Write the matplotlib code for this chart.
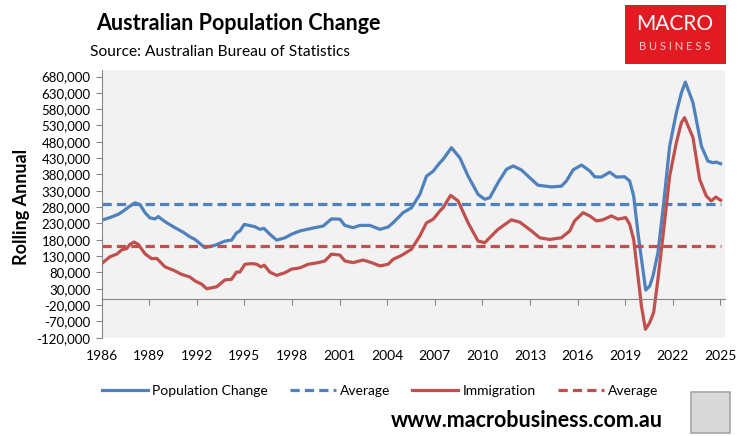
import matplotlib
matplotlib.use("Agg")
import matplotlib.pyplot as plt
from matplotlib.patches import Rectangle
from matplotlib.lines import Line2D
from matplotlib.ticker import FuncFormatter

plt.rcParams['font.family'] = ['Lato', 'DejaVu Sans']

# rolling annual population change
pop_years = [1986.0, 1986.52, 1987.05, 1987.36, 1987.78, 1988.1, 1988.41, 1988.73, 1989.04,
             1989.36, 1989.57, 1989.78, 1990.1, 1990.62, 1991.14, 1991.56, 1991.88, 1992.5,
             1993.14, 1993.77, 1994.19, 1994.5, 1994.71, 1994.99, 1995.66, 1995.97, 1996.23,
             1996.6, 1997.03, 1997.55, 1997.97, 1998.5, 1999.33, 1999.96, 2000.49, 2001.02,
             2001.33, 2001.85, 2002.28, 2002.9, 2003.54, 2004.06, 2004.37, 2005.0, 2005.53,
             2006.06, 2006.48, 2006.9, 2007.32, 2007.52, 2008.05, 2008.58, 2009.1, 2009.73,
             2010.15, 2010.47, 2010.99, 2011.52, 2011.94, 2012.46, 2013.1, 2013.51, 2014.36,
             2014.98, 2015.3, 2015.72, 2016.25, 2016.77, 2017.08, 2017.5, 2018.03, 2018.45,
             2018.97, 2019.29, 2019.54, 2019.81, 2020.09, 2020.3, 2020.55, 2020.76, 2021.07,
             2021.39, 2021.81, 2022.23, 2022.55, 2022.8, 2023.28, 2023.81, 2024.22, 2024.54,
             2024.75, 2025.02]
pop_change = [240000, 248000, 258000, 268000, 283000, 293000, 288000, 263000, 247000,
              244000, 251000, 243000, 232000, 217000, 203000, 189000, 181000, 156000,
              163000, 176000, 179000, 201000, 207000, 227000, 220000, 212000, 215000,
              197000, 179000, 186000, 197000, 207000, 216000, 222000, 244000, 243000,
              224000, 217000, 224000, 224000, 212000, 219000, 232000, 263000, 278000,
              319000, 375000, 390000, 416000, 426000, 462000, 431000, 375000, 319000,
              304000, 309000, 355000, 396000, 406000, 394000, 365000, 347000, 342000,
              344000, 360000, 394000, 409000, 391000, 373000, 372000, 387000, 372000,
              373000, 360000, 314000, 202000, 100000, 26000, 38000, 69000, 140000,
              273000, 467000, 569000, 630000, 663000, 600000, 467000, 421000, 416000,
              418000, 413000]

# rolling annual net overseas migration
imm_years = [1986.0, 1986.52, 1986.95, 1987.26, 1987.58, 1987.78, 1988.04, 1988.3, 1988.73,
             1989.15, 1989.47, 1989.99, 1990.51, 1991.04, 1991.56, 1991.88, 1992.3, 1992.62,
             1993.25, 1993.77, 1994.19, 1994.5, 1994.71, 1995.03, 1995.45, 1995.77, 1996.04,
             1996.25, 1996.6, 1997.03, 1997.55, 1997.97, 1998.5, 1999.02, 1999.4, 1999.65,
             2000.07, 2000.49, 2001.02, 2001.33, 2001.85, 2002.48, 2003.01, 2003.54, 2004.06,
             2004.37, 2004.9, 2005.53, 2006.06, 2006.48, 2006.9, 2007.32, 2007.52, 2008.0,
             2008.47, 2009.1, 2009.73, 2010.15, 2010.99, 2011.83, 2012.36, 2013.1, 2013.62,
             2014.25, 2014.98, 2015.51, 2015.82, 2016.35, 2016.77, 2017.19, 2017.6, 2018.14,
             2018.55, 2019.04, 2019.29, 2019.54, 2019.81, 2020.03, 2020.28, 2020.55, 2020.8,
             2021.07, 2021.39, 2021.81, 2022.23, 2022.55, 2022.75, 2023.28, 2023.7, 2024.12,
             2024.44, 2024.72, 2025.02]
immigration = [107000, 128000, 136000, 149000, 153000, 166000, 173000, 166000, 137000,
               122000, 123000, 97000, 87000, 74000, 66000, 54000, 44000, 30000,
               36000, 57000, 59000, 81000, 81000, 105000, 107000, 105000, 97000,
               102000, 81000, 71000, 79000, 90000, 94000, 105000, 108000, 110000,
               115000, 136000, 133000, 115000, 110000, 118000, 110000, 100000, 105000,
               120000, 132000, 151000, 192000, 232000, 243000, 268000, 278000, 316000,
               299000, 232000, 176000, 171000, 212000, 241000, 234000, 207000, 186000,
               181000, 186000, 207000, 238000, 263000, 253000, 238000, 241000, 253000,
               243000, 248000, 227000, 181000, 69000, -23000, -94000, -74000, -43000,
               59000, 192000, 375000, 477000, 539000, 554000, 493000, 365000, 314000,
               299000, 311000, 301000]

pop_avg = 290000
imm_avg = 160000

x_ticks = list(range(1986, 2026, 3))
y_ticks = list(range(-120000, 680001, 50000))

blue = '#4F81BD'
red = '#C0504D'
grey = '#868686'

fig = plt.figure(figsize=(7.44, 4.36), dpi=100)
ax = fig.add_axes([101.7 / 744, 1 - 337.7 / 436, 623 / 744, 267.7 / 436])
ax.set_facecolor('#F2F2F2')

lw = 2.3
dash = (2.9, 1.6)
ax.plot(pop_years, pop_change, color=blue, lw=lw, solid_joinstyle='round')
ax.plot([pop_years[0], pop_years[-1]], [pop_avg, pop_avg], color=blue, lw=lw, dashes=dash)
ax.plot(imm_years, immigration, color=red, lw=lw, solid_joinstyle='round')
ax.plot([imm_years[0], imm_years[-1]], [imm_avg, imm_avg], color=red, lw=lw, dashes=dash)

ax.set_xlim(1986, 2025.28)
ax.set_ylim(-120000, 700000)

for s in ['top', 'right']:
    ax.spines[s].set_visible(False)
ax.spines['left'].set_color(grey)
ax.spines['bottom'].set_color(grey)
ax.spines['bottom'].set_position(('data', 0))

ax.set_yticks(y_ticks)
ax.yaxis.set_major_formatter(FuncFormatter(lambda v, p: f"{int(v):,}"))
ax.tick_params(axis='y', length=4, color=grey, labelsize=9.5, pad=4)
ax.set_xticks(x_ticks)
ax.tick_params(axis='x', length=4, color=grey, labelbottom=False)

sec = ax.secondary_xaxis('bottom')
sec.set_xticks(x_ticks)
sec.set_xticklabels([str(y) for y in x_ticks])
sec.tick_params(length=0, labelsize=10, pad=9)
sec.spines['bottom'].set_visible(False)

fig.text(22 / 744, 1 - 207 / 436, 'Rolling Annual', rotation=90, ha='center', va='center',
         fontsize=13, fontweight='bold')

fig.text(96 / 744, 1 - 23 / 436, 'Australian Population Change', ha='left', va='center',
         fontsize=15.5, fontweight='bold')
fig.text(90 / 744, 1 - 52 / 436, 'Source: Australian Bureau of Statistics', ha='left',
         va='center', fontsize=11.2)

# logo block
fig.patches.append(Rectangle((625 / 744, 1 - 64 / 436), 101 / 744, 59 / 436,
                             transform=fig.transFigure, facecolor='#E21A22', edgecolor='none'))
fig.text(675 / 744, 1 - 24 / 436, 'MACRO', color='white', ha='center', va='center', fontsize=15)
fig.text(675 / 744, 1 - 46 / 436, 'B U S I N E S S', color='#F6D0D0', ha='center', va='center',
         fontsize=8)

handles = [Line2D([], [], color=blue, lw=lw),
           Line2D([], [], color=blue, lw=lw, dashes=dash),
           Line2D([], [], color=red, lw=lw),
           Line2D([], [], color=red, lw=lw, dashes=dash)]
fig.legend(handles, ['Population Change', 'Average', 'Immigration', 'Average'],
           loc='center', bbox_to_anchor=(380 / 744, 1 - 391 / 436), ncol=4, frameon=False,
           fontsize=10, handlelength=3.3, handletextpad=0.3, columnspacing=1.6)

fig.text(527 / 744, 1 - 420 / 436, 'www.macrobusiness.com.au', ha='center', va='center',
         fontsize=15.5, fontweight='bold')
fig.patches.append(Rectangle((691 / 744, 1 - 433 / 436), 39 / 744, 41 / 436,
                             transform=fig.transFigure, facecolor='#D9D9D9',
                             edgecolor='#A6A6A6', lw=1.2))

fig.savefig('out.png', dpi=100)
